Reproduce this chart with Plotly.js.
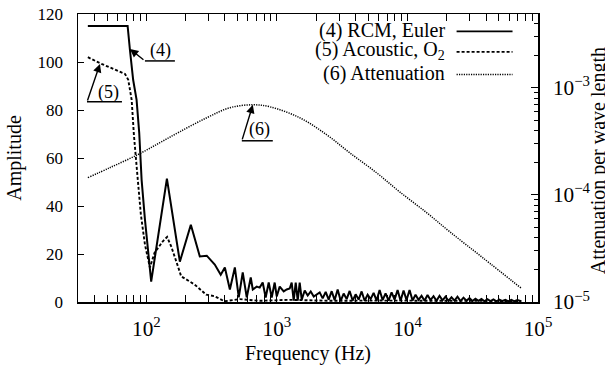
<!DOCTYPE html>
<html><head><meta charset="utf-8">
<script src="https://cdn.plot.ly/plotly-3.0.1.min.js"></script>
<style>html,body{margin:0;padding:0;background:#fff;}</style>
</head><body>
<div id="chart" style="width:605px;height:367px;"></div>
<script>
// Series (4) RCM, Euler
const freq4Head = [35.6, 71.8, 74.8, 79.2, 84.1, 88.1, 91.9, 97.5, 108.8, 143.6, 180.4, 219, 256.5, 290, 334, 371, 399, 436, 476, 510, 547, 587, 630, 653, 700, 738, 778, 820, 865, 912, 961, 996, 1050, 1127, 1188, 1253, 1297, 1344, 1393, 1443, 1494, 1549, 1633, 1721, 1815, 1914];
const amp4Head = [115.0, 115.0, 105.0, 92.5, 84.2, 70.5, 50.9, 34.3, 8.5, 51.4, 16.8, 32.2, 19.0, 19.3, 15.6, 11.4, 14.4, 5.2, 14.4, 1.9, 12.3, 1.9, 10.2, 5.2, 6.4, 6.0, 8.1, 1.9, 8.1, 1.9, 8.1, 2.3, 6.4, 4.4, 5.2, 5.6, 8.1, 0.6, 8.1, 0.6, 8.1, 1.0, 4.8, 2.7, 4.4, 2.3];
const freq4Tail = [2126,2241,2363,2491,2627,2769,2919,3078,3245,3421,
 3606,3802,4009,4226,4456,4698,4952,5221,5504,5803,
 6117,6449,6799,7168,7557,7967,8399,8855,9335,9842,
 10375,10939,11532,12158,12817,13513,14245,15018,15833,16693,
 17598,18554,19560,20622,21740,22920,24163,25475,26856,28314,
 29850,31470,33176,34977,36874,38875,40983,43207,45550,48023,
 50627,53375,56269,59323,62539,65934,69508,73281];
const amp4Tail = [4.0,1.5,4.2,1.0,4.5,0.8,5.2,0.5,3.5,1.2,
 4.6,0.6,3.2,1.0,4.4,0.5,3.0,1.2,3.8,0.6,
 5.0,0.8,3.6,0.6,4.0,1.0,5.0,0.5,4.8,0.8,
 5.0,0.6,3.0,0.9,2.6,0.5,2.9,0.8,2.4,0.5,
 2.6,0.7,2.2,0.5,2.0,0.6,2.2,0.4,1.8,0.5,
 1.6,0.4,1.4,0.5,1.3,0.3,1.2,0.4,1.1,0.3,
 1.0,0.4,0.9,0.3,0.9,0.3,0.8,0.4];

// Series (5) Acoustic, O2
const freq5 = [35.6, 44.1, 68.6, 72.6, 77.1, 80.2, 84.6, 90.7, 97.5, 106.4, 115.5, 133.7, 144.2, 154.8, 174.3, 184.6, 233.8, 286.9, 332.6, 396.6, 519, 738, 1253, 2535, 6110, 21000, 74700];
const amp5 = [102.0, 99.5, 95.0, 92.6, 84.2, 69.7, 55.1, 36.4, 23.9, 14.4, 20.5, 25.3, 27.1, 23.2, 14.9, 10.7, 7.3, 3.1, 2.4, 0.3, 1.2, 0.5, 0.9, 0.5, 0.6, 0.4, 0.4];

// Series (6) Attenuation per wave length (right axis)
const freq6 = [35.6, 52.6, 86, 127, 180, 290, 435, 653, 881, 1494, 2404, 3604, 5800, 8700, 14000, 21000, 37600, 74700];
const att6 = [1.45e-4, 1.80e-4, 2.38e-4, 3.08e-4, 3.89e-4, 5.26e-4, 6.52e-4, 6.95e-4, 6.66e-4, 5.26e-4, 3.65e-4, 2.48e-4, 1.61e-4, 1.07e-4, 6.84e-5, 4.55e-5, 2.60e-5, 1.34e-5];

const legendLabels = ['(4) RCM, Euler', '(5) Acoustic, O<sub>2</sub>', '(6) Attenuation'];
const calloutLabels = ['(4)', '(5)', '(6)'];

const FONT = 'Liberation Serif, Times New Roman, serif';
const W = 605, H = 367;
const M = {l: 78, r: 66.5, t: 14, b: 64.5};
const PW = W - M.l - M.r, PH = H - M.t - M.b;
const px = x => (x - M.l) / PW;
const py = y => (H - M.b - y) / PH;

const traces = [
  {x: freq6, y: att6, yaxis: 'y2', type: 'scatter', mode: 'lines',
   line: {color: '#000', width: 1.5, dash: '1.2px,1.2px', shape: 'spline', smoothing: 1}},
  {x: freq5, y: amp5, type: 'scatter', mode: 'lines',
   line: {color: '#000', width: 1.9, dash: '3px,2px'}},
  {x: freq4Head.concat(freq4Tail), y: amp4Head.concat(amp4Tail), type: 'scatter', mode: 'lines',
   line: {color: '#000', width: 2}}
];

const legY = [31.5, 52, 74.5];
const legTextY = [31, 50.5, 73.5];
const legDash = ['solid', '3px,2px', '1.2px,1.2px'];
const shapes = [];
const annotations = [];
legendLabels.forEach((t, i) => {
  annotations.push({xref: 'paper', yref: 'paper', x: px(447), y: py(legTextY[i]), xanchor: 'right', yanchor: 'middle',
    text: t, showarrow: false, font: {family: FONT, size: 20, color: '#000'}});
  shapes.push({type: 'line', xref: 'paper', yref: 'paper', x0: px(457), x1: px(513), y0: py(legY[i]), y1: py(legY[i]),
    line: {color: '#000', width: i === 2 ? 1.5 : 1.8, dash: legDash[i]}});
});

// callouts: text centre, underline, arrow tail -> head
const callouts = [
  {tc: [161, 51], ul: [145, 175, 61], head: [130, 49]},
  {tc: [108.5, 92.5], ul: [87, 122, 102], head: [100, 64]},
  {tc: [260, 130], ul: [242, 273, 141], head: [253, 105]}
];
callouts.forEach((c, i) => {
  annotations.push({xref: 'paper', yref: 'paper', x: px(c.tc[0]), y: py(c.tc[1]), xanchor: 'center', yanchor: 'middle',
    text: calloutLabels[i], showarrow: false, font: {family: FONT, size: 18, color: '#000'}});
  shapes.push({type: 'line', xref: 'paper', yref: 'paper', x0: px(c.ul[0]), x1: px(c.ul[1]), y0: py(c.ul[2]), y1: py(c.ul[2]),
    line: {color: '#000', width: 1.5}});
  annotations.push({xref: 'paper', yref: 'paper', x: px(c.head[0]), y: py(c.head[1]),
    ax: c.ul[0] - c.head[0], ay: c.ul[2] - c.head[1], text: '', showarrow: true,
    arrowhead: 2, arrowsize: 1.2, arrowwidth: 1.4, arrowcolor: '#000', standoff: 0, startstandoff: 0});
});

annotations.push({xref: 'paper', yref: 'paper', x: px(599), y: py(161), xanchor: 'center', yanchor: 'middle',
  text: 'Attenuation per wave length', textangle: -90, showarrow: false, font: {family: FONT, size: 20, color: '#000'}});

const layout = {
  width: W, height: H,
  margin: {l: M.l, r: M.r, t: M.t, b: M.b, pad: 0},
  paper_bgcolor: '#fff', plot_bgcolor: '#fff',
  showlegend: false,
  font: {family: FONT, size: 17, color: '#000'},
  xaxis: {type: 'log', range: [1.476, 5], dtick: 1, exponentformat: 'power',
    ticks: 'inside', ticklen: 7, tickwidth: 1, tickcolor: '#000',
    minor: {ticks: 'inside', ticklen: 4, tickcolor: '#000', showgrid: false},
    showline: true, linecolor: '#000', linewidth: 1.5, mirror: 'allticks',
    showgrid: false, zeroline: false, ticklabelstandoff: 8,
    tickfont: {family: FONT, size: 17},
    title: {text: 'Frequency (Hz)', font: {family: FONT, size: 20}, standoff: 6}},
  yaxis: {range: [0, 120], dtick: 20, ticks: 'inside', ticklen: 6, tickcolor: '#000',
    showline: true, linecolor: '#000', linewidth: 1.5, showgrid: false, zeroline: false,
    ticklabelstandoff: 10, tickfont: {family: FONT, size: 17},
    title: {text: 'Amplitude', font: {family: FONT, size: 20}, standoff: 10}},
  yaxis2: {type: 'log', overlaying: 'y', side: 'right', range: [-5, -2.31], dtick: 1, exponentformat: 'power',
    ticks: 'inside', ticklen: 7, tickcolor: '#000',
    minor: {ticks: 'inside', ticklen: 4, tickcolor: '#000', showgrid: false},
    showline: true, linecolor: '#000', linewidth: 1.5, showgrid: false, zeroline: false,
    ticklabelstandoff: 10, tickfont: {family: FONT, size: 17}},
  shapes: shapes,
  annotations: annotations
};

Plotly.newPlot('chart', traces, layout, {staticPlot: true, displayModeBar: false});
</script>
</body></html>
